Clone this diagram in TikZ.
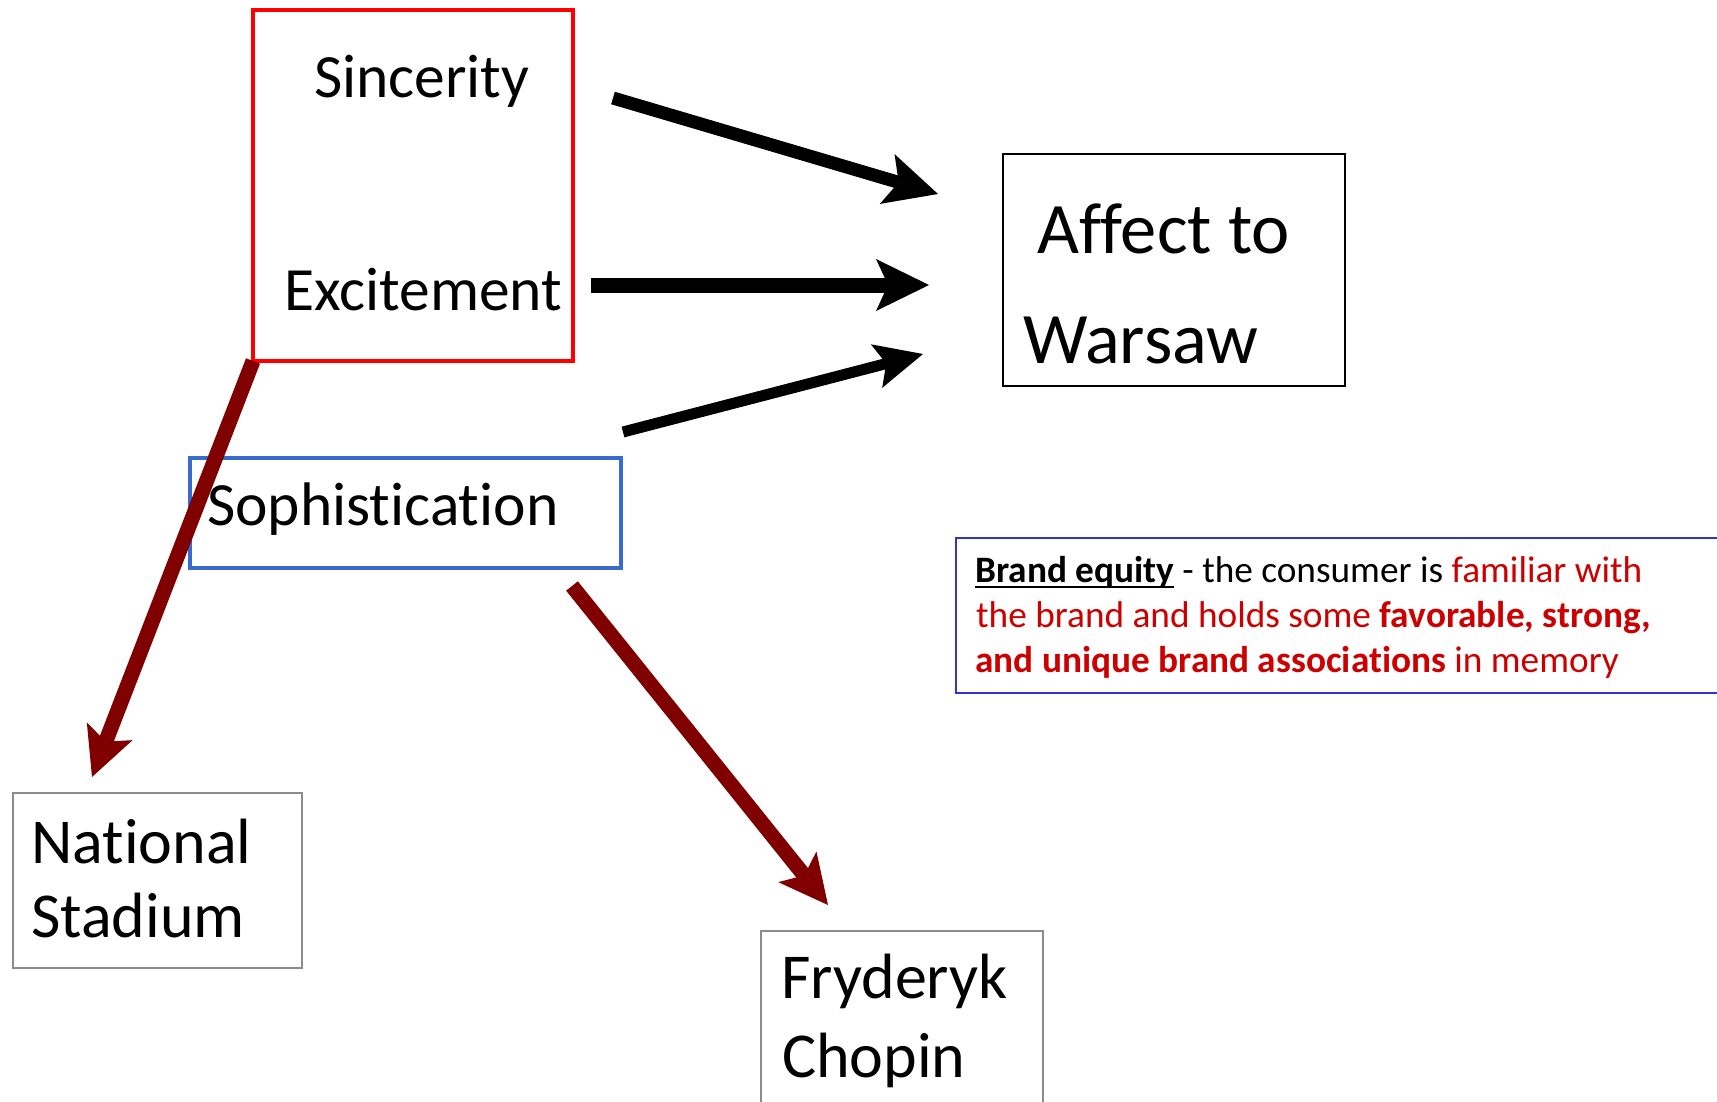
\documentclass[tikz,border=0pt]{standalone}
\usepackage{fontspec}
\setmainfont{Carlito}[RawFeature={-liga;-dlig;-clig}]
\usetikzlibrary{arrows.meta}

\definecolor{boxred}{RGB}{255,0,0}
\definecolor{boxblue}{RGB}{57,106,206}
\definecolor{noteblue}{RGB}{51,51,204}
\definecolor{notered}{RGB}{204,0,0}
\definecolor{darkmaroon}{RGB}{128,0,0}
\definecolor{framegray}{RGB}{140,140,140}

% underline that runs through the descenders
\newcommand\termline[1]{\setbox0=\hbox{#1}\rlap{\vrule width\wd0 height -3.8pt depth 5.8pt}\box0}

\begin{document}
\begin{tikzpicture}[x=1pt,y=-1pt,
  frame/.style={anchor=north west, inner sep=0pt, outer sep=0pt},
  txtbig/.style={inner sep=0pt, anchor=base west, font=\fontsize{61.5}{74}\selectfont},
  txtbottom/.style={inner sep=0pt, anchor=base west, font=\fontsize{64}{77}\selectfont},
  txthuge/.style={inner sep=0pt, anchor=base west, font=\fontsize{72.5}{87}\selectfont},
  txtnote/.style={inner sep=0pt, anchor=base west, font=\fontsize{37.3}{45}\selectfont},
  blackarrow/.style={draw=black, line width=#1, -{Stealth[length=53pt, width=52pt, inset=12pt, line width=0pt]}},
  redarrow/.style={draw=darkmaroon, line width=15pt, -{Stealth[length=49pt, width=49pt, inset=11pt, line width=0pt]}},
]
\clip (0,0) rectangle (1717,1101);
\fill[white] (0,0) rectangle (1717,1101);

% boxes
\node[frame, draw=boxred, line width=4pt, minimum width=320pt, minimum height=351pt] (traits) at (253,10) {};
\node[frame, draw=boxblue, line width=4pt, minimum width=431pt, minimum height=110pt] (soph) at (190,458) {};
\node[frame, draw=black, line width=2pt, minimum width=342pt, minimum height=232pt] (affect) at (1003,154) {};
\node[frame, draw=framegray, line width=2pt, minimum width=289pt, minimum height=175pt] (stadium) at (13,793) {};
\node[frame, draw=framegray, line width=2pt, minimum width=282pt, minimum height=240pt] (chopin) at (761,931) {};
\node[frame, draw=noteblue, line width=2pt, minimum width=800pt, minimum height=155pt] (note) at (956,538) {};

% box texts
\node[txtbig] (sinc) at (314,97) {Sincerity};
\node[txtbig] (exc) at (284,310) {Excitement};
\node[txtbig] (sophtxt) at (207,525) {Sophistication};
\node[txthuge] (aff1) at (1037,253) {Affect to};
\node[txthuge] (aff2) at (1023,363) {Warsaw};
\node[txtbottom] (nat1) at (31,863) {National};
\node[txtbottom] (nat2) at (31,937) {Stadium};
\node[txtbottom] (fry1) at (781,998) {Fryderyk};
\node[txtbottom] (fry2) at (782,1077) {Chopin};

% brand equity note
\node[txtnote] (note1) at (975,582) {\textbf{\termline{Brand equity}} - the consumer is \textcolor{notered}{familiar with}};
\node[txtnote, text=notered] (note2) at (976,627) {the brand and holds some \textbf{favorable, strong,}};
\node[txtnote, text=notered] (note3) at (975,672) {\textbf{and unique brand associations} in memory};

% arrow end points
\coordinate (a1s) at (613,98);
\coordinate (a1t) at (938,194);
\coordinate (a2s) at (591,285);
\coordinate (a2t) at (929,285);
\coordinate (a3s) at (623,432);
\coordinate (a3t) at (923,354);
\coordinate (rAt) at (92,777);
\coordinate (rBs) at (572,586);
\coordinate (rBt) at (828,905);

% arrows towards the affect box
\draw[blackarrow=13pt] (a1s) -- (a1t);
\draw[blackarrow=15pt] (a2s) -- (a2t);
\draw[draw=black, line width=11pt, -{Stealth[length=48pt, width=45pt, inset=10pt, line width=0pt]}] (a3s) -- (a3t);

% arrows towards the associations
\draw[redarrow] (traits.south west) -- (rAt);
\draw[redarrow] (rBs) -- (rBt);
\end{tikzpicture}
\end{document}
